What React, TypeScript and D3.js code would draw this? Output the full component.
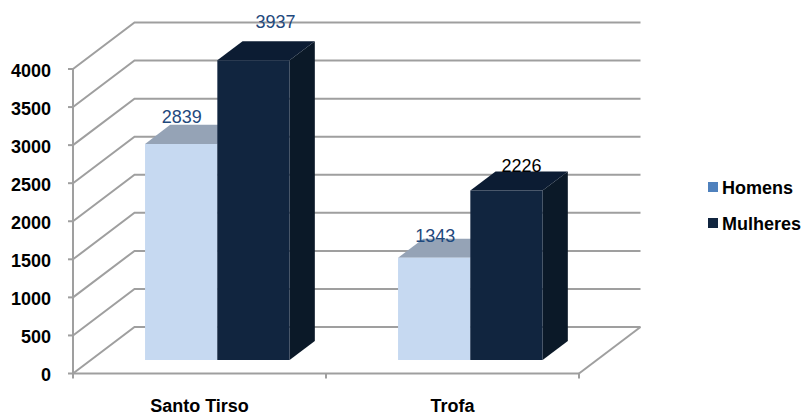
import React from "react";
import * as d3 from "d3";

const categories = ["Santo Tirso", "Trofa"];
const seriesNames = ["Homens", "Mulheres"];
const homens = [2839, 1343];
const mulheres = [3937, 2226];
const yTicks = [0, 500, 1000, 1500, 2000, 2500, 3000, 3500, 4000];

// Oblique projection of the 3D box: full depth shifts a point right and up.
const WIDTH = 803;
const HEIGHT = 416;
const PLOT = { left: 73, right: 579, bottom: 373.5, top: 69 };
const DEPTH = { dx: 61.5, dy: 46.5 };
const BAR_DEPTH = { near: 0.29, far: 0.7 };

const x0 = d3.scaleBand<string>().domain(categories).range([PLOT.left, PLOT.right]);
const x1 = d3
  .scaleBand<string>()
  .domain(seriesNames)
  .range([(x0.bandwidth() - (x0.bandwidth() * 2) / 3.5) / 2, (x0.bandwidth() + (x0.bandwidth() * 2) / 3.5) / 2]);
const y = d3.scaleLinear().domain([0, 4000]).range([PLOT.bottom, PLOT.top]);

const project = (px: number, value: number, z: number): [number, number] => [
  px + DEPTH.dx * z,
  y(value) - DEPTH.dy * z,
];
const poly = (pts: [number, number][]) => pts.map((p) => p.join(",")).join(" ");

const palette = {
  Homens: { front: "#c6d9f1", top: "#95a3b6", side: "#95a3b6", legend: "#4f81bd" },
  Mulheres: { front: "#11253f", top: "#0c1c33", side: "#0b1928", legend: "#11253f" },
} as Record<string, { front: string; top: string; side: string; legend: string }>;

const GRID = "#9f9f9f";
const FONT = "'Liberation Sans', Arial, sans-serif";
const LABEL_BLUE = "#1f497d";

// Data labels sit where they were placed by hand, relative to each bar's front-top centre.
const labelNudge: Record<string, [number, number][]> = {
  Homens: [[0.5, -21], [1, -16]],
  Mulheres: [[22, -32], [15, -19]],
};
const labelFill: Record<string, string[]> = {
  Homens: [LABEL_BLUE, LABEL_BLUE],
  Mulheres: [LABEL_BLUE, "#000000"],
};

function Bar({ cat, name, value }: { cat: string; name: string; value: number }) {
  const c = palette[name];
  const left = (x0(cat) as number) + (x1(name) as number);
  const right = left + x1.bandwidth();
  const { near, far } = BAR_DEPTH;
  return (
    <g>
      <polygon
        fill={c.side}
        points={poly([project(right, 0, near), project(right, 0, far), project(right, value, far), project(right, value, near)])}
      />
      <polygon
        fill={c.top}
        points={poly([project(left, value, near), project(left, value, far), project(right, value, far), project(right, value, near)])}
      />
      <polygon
        fill={c.front}
        points={poly([project(left, 0, near), project(right, 0, near), project(right, value, near), project(left, value, near)])}
      />
    </g>
  );
}

export default function App() {
  const series: [string, number[]][] = [
    [seriesNames[0], homens],
    [seriesNames[1], mulheres],
  ];
  const catTicks = [PLOT.left, PLOT.left + x0.step(), PLOT.right];
  return (
    <svg
      width={WIDTH}
      height={HEIGHT}
      viewBox={`0 0 ${WIDTH} ${HEIGHT}`}
      style={{ position: "absolute", left: 0, top: 0, display: "block", background: "#fff" }}
    >
      {/* Back wall, side wall and floor */}
      <g stroke={GRID} strokeWidth={2} fill="none">
        {yTicks.map((t) => {
          const [fx, fy] = project(PLOT.left, t, 0);
          const [bx, by] = project(PLOT.left, t, 1);
          const [ex] = project(PLOT.right, t, 1);
          return <polyline key={t} points={poly([[fx, fy], [bx, by], [ex, by]])} />;
        })}
        <line
          x1={PLOT.right}
          y1={y(0)}
          x2={project(PLOT.right, 0, 1)[0]}
          y2={project(PLOT.right, 0, 1)[1]}
        />
        <line x1={PLOT.left} y1={y(4000)} x2={PLOT.left} y2={y(0)} />
        <line x1={PLOT.left} y1={y(0)} x2={PLOT.right} y2={y(0)} />
        {yTicks.map((t) => (
          <line key={t} x1={PLOT.left - 5} x2={PLOT.left} y1={y(t)} y2={y(t)} />
        ))}
        {catTicks.map((t) => (
          <line key={t} x1={t} x2={t} y1={y(0)} y2={y(0) + 5} />
        ))}
      </g>

      {/* Bars */}
      {categories.map((cat, i) =>
        series.map(([name, values]) => <Bar key={cat + name} cat={cat} name={name} value={values[i]} />)
      )}

      {/* Data labels */}
      <g fontFamily={FONT} fontSize={18} textAnchor="middle">
        {categories.map((cat, i) =>
          series.map(([name, values]) => {
            const cx = (x0(cat) as number) + (x1(name) as number) + x1.bandwidth() / 2;
            const [px, py] = project(cx, values[i], BAR_DEPTH.near);
            const [nx, ny] = labelNudge[name][i];
            return (
              <text key={cat + name} x={px + nx} y={py + ny} fill={labelFill[name][i]}>
                {values[i]}
              </text>
            );
          })
        )}
      </g>

      {/* Value axis labels */}
      <g fontFamily={FONT} fontSize={18} fontWeight="bold" textAnchor="end" fill="#000">
        {yTicks.map((t) => (
          <text key={t} x={51} y={y(t) + 7.5}>
            {t}
          </text>
        ))}
      </g>

      {/* Category labels */}
      <g fontFamily={FONT} fontSize={18} fontWeight="bold" textAnchor="middle" fill="#000">
        {categories.map((cat) => (
          <text key={cat} x={(x0(cat) as number) + x0.bandwidth() / 2} y={412}>
            {cat}
          </text>
        ))}
      </g>

      {/* Legend */}
      <g fontFamily={FONT} fontSize={18} fontWeight="bold" fill="#000">
        {seriesNames.map((name, i) => (
          <g key={name} transform={`translate(708,${182 + i * 36})`}>
            <rect width={10} height={10} fill={palette[name].legend} />
            <text x={14} y={11.5}>
              {name}
            </text>
          </g>
        ))}
      </g>
    </svg>
  );
}
